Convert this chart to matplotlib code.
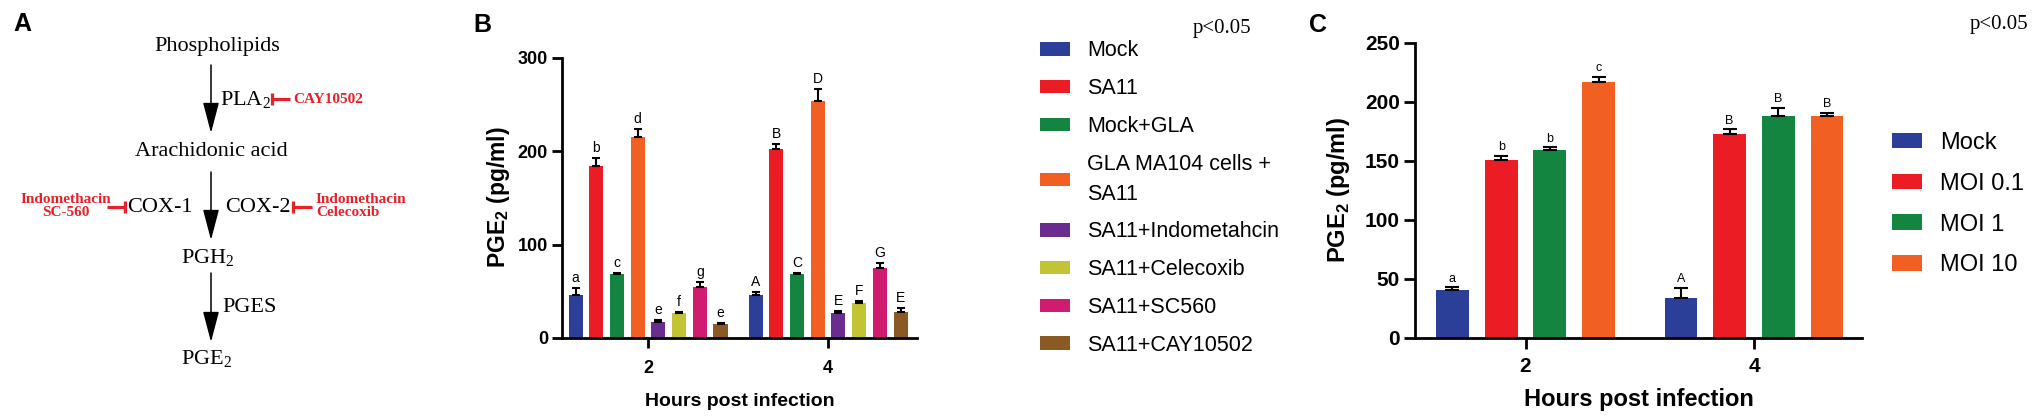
import numpy as np
import matplotlib.pyplot as plt

plt.rcParams['font.family'] = 'Liberation Sans'

hours = ['2', '4']

# panel B data
b_names = ['Mock', 'SA11', 'Mock+GLA', 'GLA MA104 cells +\nSA11',
           'SA11+Indometahcin', 'SA11+Celecoxib', 'SA11+SC560', 'SA11+CAY10502']
b_mean = [[46.5, 46], [184.7, 203], [69, 68.7], [215.5, 253.5],
          [17, 27], [27, 37], [55, 74.8], [14.7, 27.6]]
b_err = [[7.5, 3.5], [8.6, 4.7], [1, 1.2], [8.6, 13.6],
         [2, 2.4], [1, 2.4], [5, 5.4], [1.5, 5]]
b_letters = [['a', 'A'], ['b', 'B'], ['c', 'C'], ['d', 'D'],
             ['e', 'E'], ['f', 'F'], ['g', 'G'], ['e', 'E']]
b_colors = ['#2b3f98', '#ec1c24', '#138541', '#f15f22',
            '#6a2d8f', '#c3c433', '#d01c6e', '#8b5a24']

# panel C data
c_names = ['Mock', 'MOI 0.1', 'MOI 1', 'MOI 10']
c_mean = [[40.4, 33.3], [151, 172.9], [159, 187.9], [216.4, 188]]
c_err = [[2.3, 9], [3, 3.7], [2.3, 7], [4.8, 2.3]]
c_letters = [['a', 'A'], ['b', 'B'], ['b', 'B'], ['c', 'B']]
c_colors = ['#2b3f98', '#ec1c24', '#138541', '#f15f22']

red = '#e8202a'
W, H = 2033, 417
fig = plt.figure(figsize=(W / 100, H / 100), dpi=100)


def bar_panel(ax, names, means, errs, letters, colors, step, width, cap, letter_fs):
    x = np.arange(len(hours))
    n = len(names)
    for i in range(n):
        pos = x + (i - (n - 1) / 2) * step
        ax.bar(pos, means[i], width, color=colors[i], label=names[i], zorder=2)
        ax.errorbar(pos, means[i], yerr=[np.zeros(len(errs[i])), errs[i]], fmt='none',
                    ecolor='black', elinewidth=1.5, capsize=cap, capthick=1.5, zorder=3)
        for p, v, e, l in zip(pos, means[i], errs[i], letters[i]):
            ax.annotate(l, (p, v + e), xytext=(0, 2), textcoords='offset points',
                        ha='center', va='bottom', fontsize=letter_fs)
    ax.spines['top'].set_visible(False)
    ax.spines['right'].set_visible(False)
    ax.spines['left'].set_linewidth(2)
    ax.spines['bottom'].set_linewidth(2)
    ax.set_xticks(x)
    ax.set_xticklabels(hours)


# ---------- panel A: pathway ----------
axA = fig.add_axes([0, 0, 420 / W, 1])
axA.set_xlim(0, 420)
axA.set_ylim(H, 0)
axA.axis('off')
serif = 'Liberation Serif'
for txt, xx, yy, ha in [('Phospholipids', 217, 46, 'center'),
                        ('PLA$_\\mathregular{2}$', 220, 100, 'left'),
                        ('Arachidonic acid', 211, 151, 'center'),
                        ('COX-1', 193, 207, 'right'),
                        ('COX-2', 225, 207, 'left'),
                        ('PGH$_\\mathregular{2}$', 208, 258, 'center'),
                        ('PGES', 222, 308, 'left'),
                        ('PGE$_\\mathregular{2}$', 207, 359, 'center')]:
    axA.text(xx, yy, txt, family=serif, fontsize=16, ha=ha, va='center')
for y0, y1 in [(65, 133), (172, 240), (273, 342)]:
    axA.annotate('', xy=(211, y1), xytext=(211, y0),
                 arrowprops=dict(arrowstyle='-|>,head_length=1.9,head_width=0.5',
                                 color='black', lw=1.1, shrinkA=0, shrinkB=0,
                                 mutation_scale=10))
# inhibitor bars
for x0, x1, yy, xb in [(272, 290, 99, 272), (107, 125, 207, 125), (293, 312, 207, 293)]:
    axA.plot([x0, x1], [yy, yy], color=red, lw=2.3, solid_capstyle='butt')
    axA.plot([xb, xb], [yy - 6, yy + 6], color=red, lw=2.3, solid_capstyle='butt')
axA.text(293, 99, 'CAY10502', family=serif, fontweight='bold', fontsize=11,
         color=red, ha='left', va='center')
axA.text(66, 206, 'Indomethacin\nSC-560', family=serif, fontweight='bold', fontsize=11,
         color=red, ha='center', va='center', multialignment='center', linespacing=0.95)
axA.text(316, 206, 'Indomethacin\nCelecoxib', family=serif, fontweight='bold', fontsize=11,
         color=red, ha='left', va='center', multialignment='left', linespacing=0.95)

# ---------- panel B ----------
axB = fig.add_axes([562 / W, (H - 338) / H, 355 / W, 280 / H])
bar_panel(axB, b_names, b_mean, b_err, b_letters, b_colors, 0.115, 0.078, 3, 10)
axB.set_ylim(0, 300)
axB.set_xlim(-0.478, 1.494)
axB.set_yticks([0, 100, 200, 300])
axB.tick_params(axis='y', length=7, width=2, labelsize=13, pad=3)
axB.tick_params(axis='x', length=7, width=2, labelsize=13, pad=9)
for lb in axB.get_xticklabels() + axB.get_yticklabels():
    lb.set_fontweight('bold')
axB.set_ylabel('PGE$_\\mathregular{2}$ (pg/ml)', fontsize=16.5, fontweight='bold')
axB.yaxis.set_label_coords(-0.14, 0.503)
axB.set_xlabel('Hours post infection', fontsize=14, fontweight='bold')
axB.xaxis.set_label_coords(0.5, -0.195)
legB = axB.legend(loc='upper left', bbox_to_anchor=(1040 / W, 0.903), bbox_transform=fig.transFigure,
                  frameon=False, fontsize=15.5, handlelength=1.4, handleheight=0.6,
                  handletextpad=0.8, labelspacing=0.78, borderpad=0, borderaxespad=0)
for t in legB.get_texts():
    t.set_linespacing(1.55)

# ---------- panel C ----------
axC = fig.add_axes([1415 / W, (H - 337.7) / H, 447 / W, 295 / H])
bar_panel(axC, c_names, c_mean, c_err, c_letters, c_colors, 0.213, 0.144, 5, 9)
axC.set_ylim(0, 250)
axC.set_xlim(-0.4836, 1.4726)
axC.set_yticks([0, 50, 100, 150, 200, 250])
axC.tick_params(axis='y', length=8, width=2, labelsize=15, pad=3)
axC.tick_params(axis='x', length=8, width=2, labelsize=15, pad=6)
for lb in axC.get_xticklabels() + axC.get_yticklabels():
    lb.set_fontweight('bold')
axC.set_ylabel('PGE$_\\mathregular{2}$ (pg/ml)', fontsize=17, fontweight='bold')
axC.yaxis.set_label_coords(-0.141, 0.5)
axC.set_xlabel('Hours post infection', fontsize=17, fontweight='bold')
axC.xaxis.set_label_coords(0.5, -0.17)
axC.legend(loc='upper left', bbox_to_anchor=(1892 / W, 0.684), bbox_transform=fig.transFigure,
           frameon=False, fontsize=17, handlelength=1.25, handleheight=0.64,
           handletextpad=0.8, labelspacing=0.8, borderpad=0, borderaxespad=0)

# panel letters and p-values
for lab, xx, yy in [('A', 22, 24), ('B', 482, 25), ('C', 1318, 25)]:
    fig.text(xx / W, 1 - yy / H, lab, fontsize=18, fontweight='bold', ha='center', va='center')
fig.text(1222 / W, 1 - 28 / H, 'p<0.05', family=serif, fontsize=15, ha='center', va='center')
fig.text(1999 / W, 1 - 25 / H, 'p<0.05', family=serif, fontsize=15, ha='center', va='center')

fig.savefig('out.png', dpi=100)
